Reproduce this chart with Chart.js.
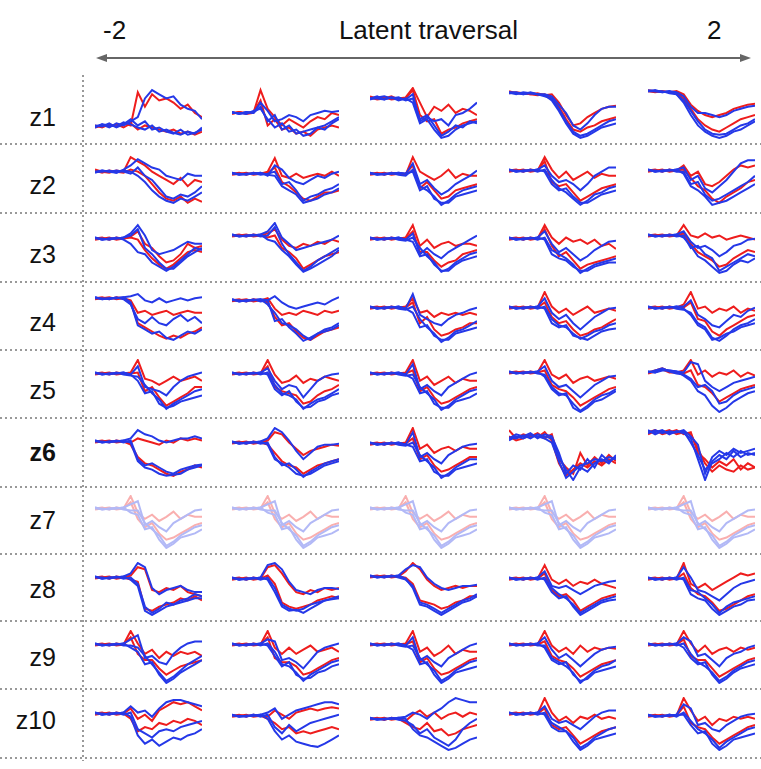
<!DOCTYPE html>
<html lang="en">
<head>
<meta charset="UTF-8">
<title>Latent traversal</title>
<script src="https://cdn.jsdelivr.net/npm/chart.js@4"></script>
<style>
  * { margin: 0; padding: 0; box-sizing: border-box; }
  body { width: 761px; height: 769px; position: relative; overflow: hidden; background: #fff;
         font-family: 'Liberation Sans', Arial, sans-serif; color: #111; }
  .abs { position: absolute; }
  .title { font-size: 26px; line-height: 30px; top: 15px; white-space: nowrap; }
  .rowlab { font-size: 25px; line-height: 30px; width: 60px; text-align: right; left: -4px; }
  .hdots { left: 0; width: 761px; height: 2px;
           background-image: linear-gradient(to right, #999 2px, transparent 2px); background-size: 5px 2px; }
  .vdots { left: 82px; top: 75px; width: 2px; height: 686px;
           background-image: linear-gradient(to bottom, #999 2px, transparent 2px); background-size: 2px 5px; }
  canvas { position: absolute; }
</style>
</head>
<body>
<svg class="abs" style="left:0;top:0" width="761" height="80">
  <line x1="104" y1="58" x2="743" y2="58" stroke="#666" stroke-width="2"/>
  <polygon points="96,58 107,54 107,62" fill="#666"/>
  <polygon points="751,58 740,54 740,62" fill="#666"/>
</svg>
<div class="vdots abs"></div>
<script>
// header texts and row names
const traversalTicks = ['-2', '2'];
const axisTitle = 'Latent traversal';
const rowLabels = ['z1', 'z2', 'z3', 'z4', 'z5', 'z6', 'z7', 'z8', 'z9', 'z10'];
const samples = [0, 1, 2, 3, 4, 5, 6, 7, 8, 9, 10, 11, 12, 13, 14, 15];
// each trace in a panel: red, blue, red, blue, blue
const traceColors = ['red', 'blue', 'red', 'blue', 'blue'];

const z1 = [
  [[14,12,15,13,16,14,46,32,44,38,40,36,30,34,26,22],
   [13,15,12,16,14,18,22,40,48,44,40,42,34,30,28,20],
   [12,14,13,15,12,16,10,14,12,10,8,10,6,8,5,8],
   [14,13,16,12,15,20,14,18,10,12,8,6,10,5,7,10],
   [12,15,14,13,17,15,12,10,14,8,10,7,5,8,6,12]],
  [[26,27,25,26,48,30,22,14,20,16,12,18,22,20,26,24],
   [27,25,27,26,36,28,18,20,24,22,18,24,26,28,27,28],
   [25,27,26,27,38,14,20,10,12,6,8,4,10,12,14,12],
   [26,26,25,28,30,20,12,16,8,10,4,6,12,10,16,20],
   [27,25,27,26,32,18,24,10,14,6,8,10,12,14,18,22]],
  [[42,40,41,39,40,41,50,36,22,32,28,34,26,30,28,24],
   [40,42,39,41,40,39,44,18,22,18,20,14,24,26,30,36],
   [41,39,40,42,39,40,48,24,18,20,6,10,12,16,18,20],
   [39,41,42,40,41,38,40,20,24,14,4,8,14,12,18,16],
   [40,40,39,41,38,40,36,16,20,10,2,4,10,14,16,18]],
  [[47,45,45,44,45,43,44,36,24,14,16,22,26,30,32,33],
   [46,46,44,45,44,44,42,34,26,14,10,16,24,30,32,32],
   [45,46,45,44,43,44,40,32,20,10,8,12,14,18,20,22],
   [46,44,46,45,44,42,40,30,18,8,4,6,10,14,18,20],
   [45,45,44,46,44,43,38,28,16,6,2,4,8,12,14,16]],
  [[48,47,47,46,47,44,34,28,24,22,24,26,30,32,34,35],
   [47,48,46,47,46,42,32,26,26,24,22,24,28,30,32,33],
   [47,46,47,46,45,40,30,20,14,10,8,12,16,20,22,24],
   [48,47,46,47,44,38,28,18,10,6,5,6,10,14,16,20],
   [47,47,47,45,44,36,24,14,8,4,2,4,8,10,14,18]]
];

const z2 = [
  [[36,34,33,35,34,48,44,40,34,30,26,22,28,20,26,24],
   [34,35,34,33,36,40,46,42,38,36,30,28,26,32,30,30],
   [35,33,35,34,33,36,34,30,22,14,8,6,10,4,8,5],
   [33,35,34,35,34,32,38,30,26,18,10,8,12,10,14,20],
   [34,34,35,33,35,34,30,24,16,10,6,4,8,6,10,14]],
  [[32,33,31,33,32,34,47,30,28,32,28,30,32,30,34,30],
   [33,31,32,32,33,30,40,36,28,24,22,26,30,28,32,34],
   [31,32,33,31,32,33,38,24,20,14,8,6,10,14,14,16],
   [32,32,31,33,31,32,34,22,24,16,6,10,12,16,18,22],
   [33,31,32,32,33,31,30,20,16,12,4,6,8,12,14,18]],
  [[32,33,31,33,32,31,48,34,30,26,30,36,28,32,30,30],
   [33,31,32,32,33,32,42,22,26,18,12,16,22,26,30,35],
   [31,32,33,31,32,32,40,18,24,16,8,10,16,18,20,22],
   [32,32,31,33,31,30,36,20,16,10,2,6,12,16,18,20],
   [33,31,32,32,33,32,34,16,20,8,4,4,10,12,14,16]],
  [[35,36,34,36,35,48,36,28,34,26,30,34,28,32,30,30],
   [36,34,35,35,36,40,30,24,26,22,16,22,30,34,38,38],
   [34,35,36,34,35,44,24,20,22,14,6,10,14,18,20,22],
   [35,35,34,36,34,36,26,18,14,8,2,6,12,14,18,20],
   [36,34,35,35,36,34,22,16,18,10,4,4,8,12,14,16]],
  [[35,36,34,36,35,40,30,34,22,20,24,30,36,40,38,40],
   [36,34,35,35,36,38,26,30,18,14,20,26,34,42,45,45],
   [34,35,36,34,35,36,28,20,16,8,4,10,14,18,24,26],
   [35,35,34,36,34,34,22,24,12,6,8,12,16,20,24,30],
   [36,34,35,35,36,32,20,16,10,2,4,6,10,14,18,22]]
];

const z3 = [
  [[35,36,34,36,35,37,42,30,26,18,12,14,20,30,26,28],
   [36,34,35,35,36,40,48,38,24,20,22,24,28,32,30,30],
   [34,35,36,34,35,36,34,24,16,10,6,10,16,22,24,22],
   [35,35,34,36,34,30,22,20,12,8,4,8,14,20,26,24],
   [36,34,35,35,36,38,44,26,20,12,6,6,12,18,22,26]],
  [[38,39,37,39,38,40,44,34,28,26,30,28,32,30,34,32],
   [39,37,38,38,39,42,50,36,30,24,26,28,30,32,34,38],
   [37,38,39,37,38,36,38,26,22,16,6,10,14,18,20,22],
   [38,38,37,39,37,38,46,30,20,12,4,8,14,18,22,26],
   [39,37,38,38,39,34,32,24,18,10,3,6,10,14,18,24]],
  [[35,36,34,36,35,36,48,28,34,26,30,32,28,30,30,28],
   [36,34,35,35,36,34,40,20,26,20,16,22,26,30,34,38],
   [34,35,36,34,35,35,42,22,22,14,8,12,14,20,22,24],
   [35,35,34,36,34,33,36,26,18,12,3,6,12,16,20,22],
   [36,34,35,35,36,34,32,18,20,10,4,4,10,14,16,18]],
  [[35,36,34,36,35,48,36,30,36,32,34,30,34,28,30,25],
   [36,34,35,35,36,42,30,22,26,20,14,18,24,28,32,33],
   [34,35,36,34,35,44,28,18,22,14,6,10,12,14,16,18],
   [35,35,34,36,34,36,24,20,16,10,2,6,10,12,14,16],
   [36,34,35,35,36,34,20,16,14,8,4,4,8,10,12,12]],
  [[38,39,37,39,38,48,38,36,40,36,38,34,36,38,36,34],
   [39,37,38,38,39,42,32,26,28,24,18,22,28,30,34,35],
   [37,38,39,37,38,40,30,22,18,14,8,10,16,20,24,22],
   [38,38,37,39,37,38,26,28,20,16,4,8,12,16,20,18],
   [39,37,38,38,39,36,28,18,14,8,2,4,10,14,12,16]]
];

const z4 = [
  [[44,45,43,45,44,42,30,32,28,30,32,28,30,32,30,30],
   [45,43,44,44,45,46,48,42,40,44,40,42,44,42,44,45],
   [43,44,45,43,44,40,20,16,12,8,5,8,6,10,12,16],
   [44,44,43,45,43,38,24,20,26,20,18,24,28,22,26,20],
   [45,43,44,44,45,40,18,14,10,12,6,4,8,12,10,14]],
  [[42,43,41,43,42,44,34,28,30,28,32,30,28,32,30,32],
   [43,41,42,42,43,42,46,40,36,34,36,38,40,38,42,45],
   [41,42,43,41,42,40,26,18,20,12,6,4,8,12,14,16],
   [42,42,41,43,41,42,22,24,16,10,3,6,10,14,16,20],
   [43,41,42,42,43,38,30,20,18,14,8,4,10,12,14,18]],
  [[35,36,34,36,35,36,44,30,32,26,30,28,30,28,30,28],
   [36,34,35,35,36,34,48,28,24,20,18,24,28,30,33,35],
   [34,35,36,34,35,35,40,20,26,14,8,10,14,16,20,20],
   [35,35,34,36,34,33,36,24,16,10,2,6,12,14,18,22],
   [36,34,35,35,36,34,30,16,18,8,4,4,10,12,14,16]],
  [[35,36,34,36,35,50,36,30,34,28,32,36,30,32,34,32],
   [36,34,35,35,36,44,30,24,28,20,14,20,26,30,34,35],
   [34,35,36,34,35,40,26,20,22,14,8,10,14,16,20,24],
   [35,35,34,36,34,36,24,18,16,10,5,8,12,14,18,20],
   [36,34,35,35,36,34,20,16,18,8,6,4,8,12,14,15]],
  [[35,36,34,36,35,38,50,34,36,30,34,32,36,30,34,32],
   [36,34,35,35,36,36,42,28,24,18,16,22,28,26,32,35],
   [34,35,36,34,35,35,40,24,22,12,8,14,18,22,26,28],
   [35,35,34,36,34,33,30,20,16,6,3,8,14,18,20,24],
   [36,34,35,35,36,34,28,18,14,4,6,10,12,16,18,20]]
];

const z5 = [
  [[37,38,36,38,37,38,50,32,30,26,30,34,30,32,34,30],
   [38,36,37,37,38,36,44,24,22,20,16,24,30,34,36,38],
   [36,37,38,36,37,37,38,20,24,14,6,10,14,18,24,24],
   [37,37,36,38,36,35,34,26,18,12,3,8,12,16,20,22],
   [38,36,37,37,38,36,30,18,20,8,4,6,10,12,14,16]],
  [[37,38,36,38,37,50,36,28,30,35,28,32,30,34,32,30],
   [38,36,37,37,38,42,30,22,26,24,14,22,30,34,36,37],
   [36,37,38,36,37,44,24,20,18,16,8,10,16,20,22,26],
   [37,37,36,38,36,38,26,18,16,12,3,8,12,14,18,22],
   [38,36,37,37,38,36,22,16,20,10,4,5,10,12,16,18]],
  [[37,38,36,38,37,38,50,30,34,26,30,34,28,32,30,30],
   [38,36,37,37,38,36,46,22,26,20,16,24,28,32,36,38],
   [36,37,38,36,37,37,40,20,24,14,8,10,14,18,22,24],
   [37,37,36,38,36,35,36,24,18,12,2,6,12,16,20,22],
   [38,36,37,37,38,36,32,18,20,8,4,4,10,12,14,18]],
  [[38,39,37,39,38,50,36,32,36,28,32,34,30,32,34,32],
   [39,37,38,38,39,44,30,24,26,20,14,20,26,30,34,35],
   [37,38,39,37,38,40,26,22,20,14,6,10,14,18,22,24],
   [38,38,37,39,37,36,24,18,16,8,1,6,12,16,18,22],
   [39,37,38,38,39,34,22,16,18,4,0,4,10,12,16,20]],
  [[38,40,42,39,38,40,50,36,40,34,38,36,40,34,38,35],
   [39,38,40,40,39,38,48,46,30,24,20,24,28,30,32,34],
   [37,39,41,38,38,37,40,26,24,18,10,14,18,22,24,26],
   [38,40,42,39,37,36,32,24,26,20,8,10,16,20,22,24],
   [39,38,41,40,39,35,30,20,16,6,0,4,10,14,18,20]]
];

const z6 = [
  [[37,38,36,38,37,36,40,38,36,34,38,36,40,38,40,38],
   [38,36,37,37,38,40,48,44,42,38,36,38,40,40,42,40],
   [36,37,38,36,37,34,22,16,14,10,6,4,8,10,14,12],
   [37,37,36,38,36,38,20,14,16,12,8,6,10,12,14,15],
   [38,36,37,37,38,36,18,12,10,6,4,5,6,10,12,14]],
  [[36,37,35,37,36,38,46,44,36,30,24,28,30,32,34,33],
   [37,35,36,36,37,40,50,46,38,28,20,26,32,34,34,35],
   [35,36,37,35,36,34,26,18,14,12,6,10,14,16,18,20],
   [36,36,35,37,35,36,22,14,16,10,3,8,12,16,18,20],
   [37,35,36,36,37,34,20,16,12,6,4,6,10,14,16,18]],
  [[35,36,34,36,35,36,50,30,34,26,30,32,28,32,30,30],
   [36,34,35,35,36,34,46,22,26,20,16,24,28,32,34,35],
   [34,35,36,34,35,35,40,20,24,14,8,10,14,18,22,22],
   [35,35,34,36,34,33,36,24,18,12,2,6,12,16,20,20],
   [36,34,35,35,36,34,32,18,20,8,4,4,10,12,14,16]],
  [[48,40,44,42,45,40,44,20,12,6,26,14,22,16,24,18],
   [40,44,42,45,40,44,42,26,6,14,10,20,12,24,18,22],
   [42,38,40,44,41,46,38,16,4,10,16,12,18,14,20,16],
   [38,42,40,43,42,40,36,18,2,8,14,16,20,18,22,20],
   [41,40,43,40,44,42,40,22,10,0,12,8,16,20,16,24]],
  [[46,48,44,46,48,44,46,26,20,12,18,14,20,10,16,12],
   [48,44,47,45,46,48,42,34,6,22,28,24,30,26,28,30],
   [44,47,46,48,44,46,44,30,16,8,14,10,8,14,10,12],
   [47,46,48,44,47,45,40,20,0,18,24,20,28,22,26,24],
   [45,48,45,47,46,47,36,24,10,16,20,26,22,28,24,26]]
];

// z7 shows the same traces in every column
const z7Traces = [
  [38,39,37,39,38,50,34,28,32,26,30,35,28,32,30,30],
  [39,37,38,38,39,42,45,22,26,20,16,24,28,32,36,37],
  [37,38,39,37,38,44,28,20,24,14,8,10,14,18,22,24],
  [38,38,37,39,37,36,36,24,18,12,2,6,12,16,20,22],
  [39,37,38,38,39,34,32,18,20,8,0,4,10,12,14,18]
];
const z7 = [z7Traces, z7Traces, z7Traces, z7Traces, z7Traces];

const z8 = [
  [[36,37,35,37,36,38,46,44,24,22,26,24,28,22,20,18],
   [37,35,36,36,37,40,50,46,26,20,24,26,28,24,22,22],
   [35,36,37,35,36,34,32,6,4,8,10,12,16,14,18,14],
   [36,36,35,37,35,36,30,8,2,6,12,10,14,16,20,18],
   [37,35,36,36,37,34,28,4,0,4,8,10,12,14,16,16]],
  [[35,36,34,36,35,46,48,40,30,22,20,24,22,26,24,26],
   [36,34,35,35,36,48,50,44,32,24,22,20,24,26,26,25],
   [34,35,36,34,35,38,30,12,8,6,8,10,14,16,18,16],
   [35,35,34,36,34,36,26,10,6,4,6,10,12,14,16,18],
   [36,34,35,35,36,34,22,8,4,5,2,6,10,14,15,16]],
  [[37,38,36,38,37,42,50,44,34,28,24,26,28,26,28,28],
   [38,36,37,37,38,44,48,46,36,30,26,24,26,28,28,29],
   [36,37,38,36,37,36,30,14,12,10,6,8,12,14,18,18],
   [37,37,36,38,36,34,28,12,10,6,2,6,10,14,16,20],
   [38,36,37,37,38,35,26,10,8,4,0,4,8,12,14,18]],
  [[35,36,34,36,35,48,34,30,34,28,32,30,34,30,28,26],
   [36,34,35,35,36,42,28,26,28,24,20,24,28,30,32,33],
   [34,35,36,34,35,40,24,18,20,14,4,8,12,16,18,20],
   [35,35,34,36,34,36,26,20,16,10,2,6,10,14,16,18],
   [36,34,35,35,36,34,22,16,18,8,0,4,8,12,14,15]],
  [[35,36,34,36,35,50,30,26,30,24,28,32,36,40,38,40],
   [36,34,35,35,36,46,36,24,22,18,14,20,26,30,32,34],
   [34,35,36,34,35,40,26,20,18,12,4,6,10,14,18,20],
   [35,35,34,36,34,36,24,22,16,10,2,8,12,14,16,18],
   [36,34,35,35,36,34,20,16,14,6,0,4,8,10,14,15]]
];

const z9 = [
  [[37,38,36,38,37,50,38,28,32,24,30,26,30,28,30,26],
   [38,36,37,37,38,42,46,24,26,20,18,28,34,38,40,40],
   [36,37,38,36,37,44,28,22,22,14,8,12,16,18,20,22],
   [37,37,36,38,36,36,34,26,18,10,2,6,12,18,22,26],
   [38,36,37,37,38,34,30,18,20,8,0,4,10,14,18,22]],
  [[37,38,36,38,37,50,34,28,34,28,32,36,30,32,34,30],
   [38,36,37,37,38,42,40,22,24,20,14,22,30,34,36,38],
   [36,37,38,36,37,44,24,20,20,16,8,10,14,18,22,24],
   [37,37,36,38,36,38,30,18,16,10,2,8,12,16,20,22],
   [38,36,37,37,38,36,26,16,20,8,4,5,10,12,16,18]],
  [[37,38,36,38,37,38,50,30,34,26,30,36,28,32,30,30],
   [38,36,37,37,38,36,44,22,26,20,16,24,28,32,36,38],
   [36,37,38,36,37,37,40,20,24,14,8,10,14,18,22,24],
   [37,37,36,38,36,35,36,24,18,12,2,6,12,16,20,22],
   [38,36,37,37,38,36,32,18,20,8,0,4,10,12,14,16]],
  [[37,38,36,38,37,50,36,30,34,28,36,30,34,32,34,33],
   [38,36,37,37,38,44,32,24,28,22,16,22,28,32,34,35],
   [36,37,38,36,37,40,26,22,20,14,6,10,14,18,20,22],
   [37,37,36,38,36,36,24,20,16,10,0,6,12,16,18,22],
   [38,36,37,37,38,34,22,18,20,8,2,4,10,12,14,16]],
  [[37,38,36,38,37,50,38,30,36,28,32,34,30,34,32,34],
   [38,36,37,37,38,44,40,26,28,22,16,24,28,30,34,36],
   [36,37,38,36,37,42,26,22,22,14,6,10,14,18,22,24],
   [37,37,36,38,36,38,28,20,16,10,2,6,12,16,20,22],
   [38,36,37,37,38,34,24,18,20,8,0,4,10,14,16,18]]
];

const z10 = [
  [[35,36,34,36,35,40,30,34,28,38,42,46,44,46,42,38],
   [36,34,35,35,36,42,36,38,32,40,46,48,48,46,44,42],
   [34,35,36,34,35,30,18,22,20,26,24,28,26,30,28,24],
   [35,35,34,36,34,36,20,16,12,18,20,18,22,24,26,28],
   [36,34,35,35,36,32,14,6,10,4,8,12,10,14,16,20]],
  [[33,34,32,34,33,32,38,34,30,36,38,40,38,40,41,40],
   [34,32,33,33,34,36,40,30,34,38,40,42,44,46,46,44],
   [32,33,34,32,33,30,26,20,22,16,18,16,18,20,22,20],
   [33,33,32,34,32,34,22,16,24,18,22,26,28,30,32,34],
   [34,32,33,33,34,30,18,10,14,8,6,4,3,6,10,14]],
  [[30,31,29,31,30,28,34,38,32,36,30,34,36,32,36,34],
   [31,29,30,30,31,32,36,34,30,36,40,46,50,48,46,46],
   [29,30,31,29,30,26,22,20,26,18,20,14,16,20,22,24],
   [30,30,29,31,29,28,24,16,20,12,8,4,10,20,26,30],
   [31,29,30,30,31,30,20,14,12,8,4,0,2,6,10,12]],
  [[35,36,34,36,35,50,36,28,32,26,32,30,34,30,32,30],
   [36,34,35,35,36,42,30,26,28,24,20,26,32,36,38,38],
   [34,35,36,34,35,40,24,20,22,14,6,10,14,18,20,22],
   [35,35,34,36,34,36,26,22,18,12,2,6,12,16,20,22],
   [36,34,35,35,36,34,22,18,18,8,0,4,10,12,14,16]],
  [[33,34,32,34,33,50,38,28,32,24,30,28,32,30,32,30],
   [34,32,33,33,34,44,40,24,26,20,18,24,28,32,34,35],
   [32,33,34,32,33,42,26,22,20,12,6,10,14,18,22,24],
   [33,33,32,34,32,36,28,20,16,10,2,8,12,16,20,22],
   [34,32,33,33,34,34,24,16,18,6,0,4,10,12,14,16]]
];

const rows = [z1, z2, z3, z4, z5, z6, z7, z8, z9, z10];

// layout
const colLeft = [95, 232, 370, 509, 648];
const rowTop = [87, 154, 222, 291, 359, 427, 495, 562, 630, 697];
const rowLabelY = [117, 185, 254, 322, 390, 452, 520, 589, 657, 720];
const sepY = [144, 213, 282, 350, 418, 487, 554, 621, 689, 758];
const panelW = 107, panelH = 54;
const palette = { red: '#ee1d1d', blue: '#2538e8' };

function addDiv(cls, style, text) {
  const d = document.createElement('div');
  d.className = 'abs ' + cls;
  Object.assign(d.style, style);
  if (text) d.textContent = text;
  document.body.appendChild(d);
  return d;
}

addDiv('title', { left: '103px' }, traversalTicks[0]);
addDiv('title', { left: '707px' }, traversalTicks[1]);
addDiv('title', { left: '0px', width: '761px', textAlign: 'center', paddingLeft: '96px' }, axisTitle);

sepY.forEach(y => addDiv('hdots', { top: (y - 1) + 'px' }));

rowLabels.forEach((lab, r) => {
  const d = addDiv('rowlab', { top: (rowLabelY[r] - 15) + 'px' }, lab);
  if (lab === 'z6') d.style.fontWeight = 'bold';
});

rows.forEach((panels, r) => {
  panels.forEach((traces, c) => {
    const cv = document.createElement('canvas');
    cv.width = panelW; cv.height = panelH;
    cv.style.left = colLeft[c] + 'px';
    cv.style.top = rowTop[r] + 'px';
    if (rowLabels[r] === 'z7') cv.style.opacity = '0.35';
    document.body.appendChild(cv);
    new Chart(cv, {
      type: 'line',
      data: {
        labels: samples,
        datasets: traces.map((vals, i) => ({
          data: vals,
          borderColor: palette[traceColors[i]],
          borderWidth: 2,
          order: traceColors[i] === 'blue' ? 1 : 2
        }))
      },
      options: {
        responsive: false,
        animation: false,
        events: [],
        layout: { padding: 0 },
        elements: { point: { radius: 0 }, line: { tension: 0 } },
        plugins: { legend: { display: false }, tooltip: { enabled: false } },
        scales: {
          x: { display: false, offset: false },
          y: { display: false, min: -1, max: 51 }
        }
      }
    });
  });
});
</script>
</body>
</html>
